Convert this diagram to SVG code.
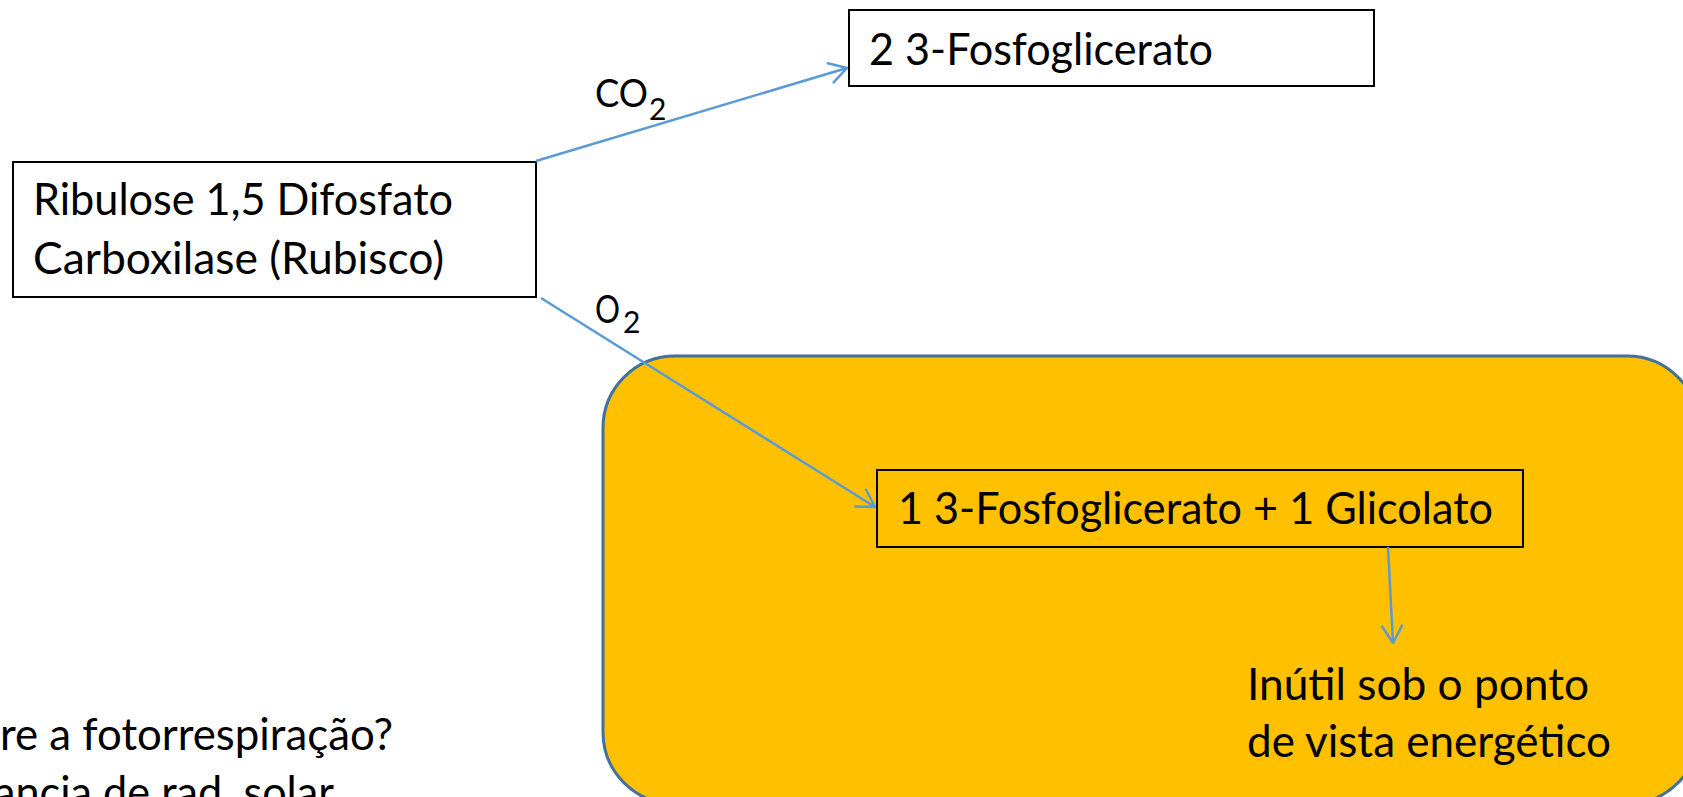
<svg xmlns="http://www.w3.org/2000/svg" width="1683" height="797" viewBox="0 0 1683 797">
  <defs>
    <style>
      .txt { font-family: Lato, "Noto Sans", "Liberation Sans", sans-serif; fill: #000; }
      .big { font-size: 45px; }
      .lbl { font-size: 39px; }
      .sub { font-size: 30px; }
      .box { fill: #fff; stroke: #000; stroke-width: 2; }
      .box-clear { fill: none; stroke: #000; stroke-width: 2; }
      .edge { fill: none; stroke: #5B9BD5; stroke-width: 2.5; }
    </style>
    <marker id="open-arrow" markerUnits="userSpaceOnUse" markerWidth="26" markerHeight="26" viewBox="-21 -13 26 26" refX="0" refY="0" orient="auto">
      <path d="M-17,-10 L0,0 L-17,10" fill="none" stroke="#5B9BD5" stroke-width="2.5" stroke-linecap="round" stroke-linejoin="round"/>
    </marker>
  </defs>

  <rect width="1683" height="797" fill="#fff"/>

  <!-- photorespiration region -->
  <g id="region-photorespiration">
    <rect x="603" y="356" width="1096" height="448" rx="72" ry="72" fill="#FFC000" stroke="#41719C" stroke-width="3"/>
  </g>

  <!-- enzyme -->
  <g id="node-rubisco">
    <rect class="box" x="13" y="162" width="523" height="135"/>
    <text class="txt big" x="33" y="215" textLength="420" lengthAdjust="spacingAndGlyphs">Ribulose 1,5 Difosfato</text>
    <text class="txt big" x="33" y="274" textLength="411" lengthAdjust="spacingAndGlyphs">Carboxilase (Rubisco)</text>
  </g>

  <!-- carboxylation product -->
  <g id="node-2pga">
    <rect class="box" x="849" y="10" width="525" height="76"/>
    <text class="txt big" x="869" y="65" textLength="344" lengthAdjust="spacingAndGlyphs">2 3-Fosfoglicerato</text>
  </g>

  <!-- oxygenation products -->
  <g id="node-pga-glicolato">
    <rect class="box-clear" x="877" y="470" width="646" height="77"/>
    <text class="txt big" x="898" y="524" textLength="595" lengthAdjust="spacingAndGlyphs">1 3-Fosfoglicerato + 1 Glicolato</text>
  </g>

  <g id="node-inutil">
    <text class="txt big" x="1247" y="700" textLength="342" lengthAdjust="spacingAndGlyphs">Inútil sob o ponto</text>
    <text class="txt big" x="1247" y="757" textLength="364" lengthAdjust="spacingAndGlyphs">de vista energético</text>
  </g>

  <!-- side note, running off the left and bottom edges -->
  <g id="note-left">
    <text class="txt big" x="0" y="750" textLength="393" lengthAdjust="spacingAndGlyphs">re a fotorrespiração?</text>
    <text class="txt big" x="-6" y="808" textLength="340" lengthAdjust="spacingAndGlyphs">ancia de rad. solar</text>
  </g>

  <!-- connectors -->
  <g id="connectors">
    <line class="edge" x1="536" y1="161" x2="847" y2="68" marker-end="url(#open-arrow)"/>
    <line class="edge" x1="541" y1="298" x2="875" y2="507" marker-end="url(#open-arrow)"/>
    <line class="edge" x1="1388" y1="547" x2="1393" y2="643" marker-end="url(#open-arrow)"/>
  </g>

  <!-- connector labels -->
  <g id="label-co2">
    <text class="txt lbl" x="595" y="107" textLength="53" lengthAdjust="spacingAndGlyphs">CO</text>
    <text class="txt sub" x="649" y="120">2</text>
  </g>
  <g id="label-o2">
    <text class="txt lbl" x="595" y="323" textLength="25" lengthAdjust="spacingAndGlyphs">O</text>
    <text class="txt sub" x="623" y="333">2</text>
  </g>
</svg>
